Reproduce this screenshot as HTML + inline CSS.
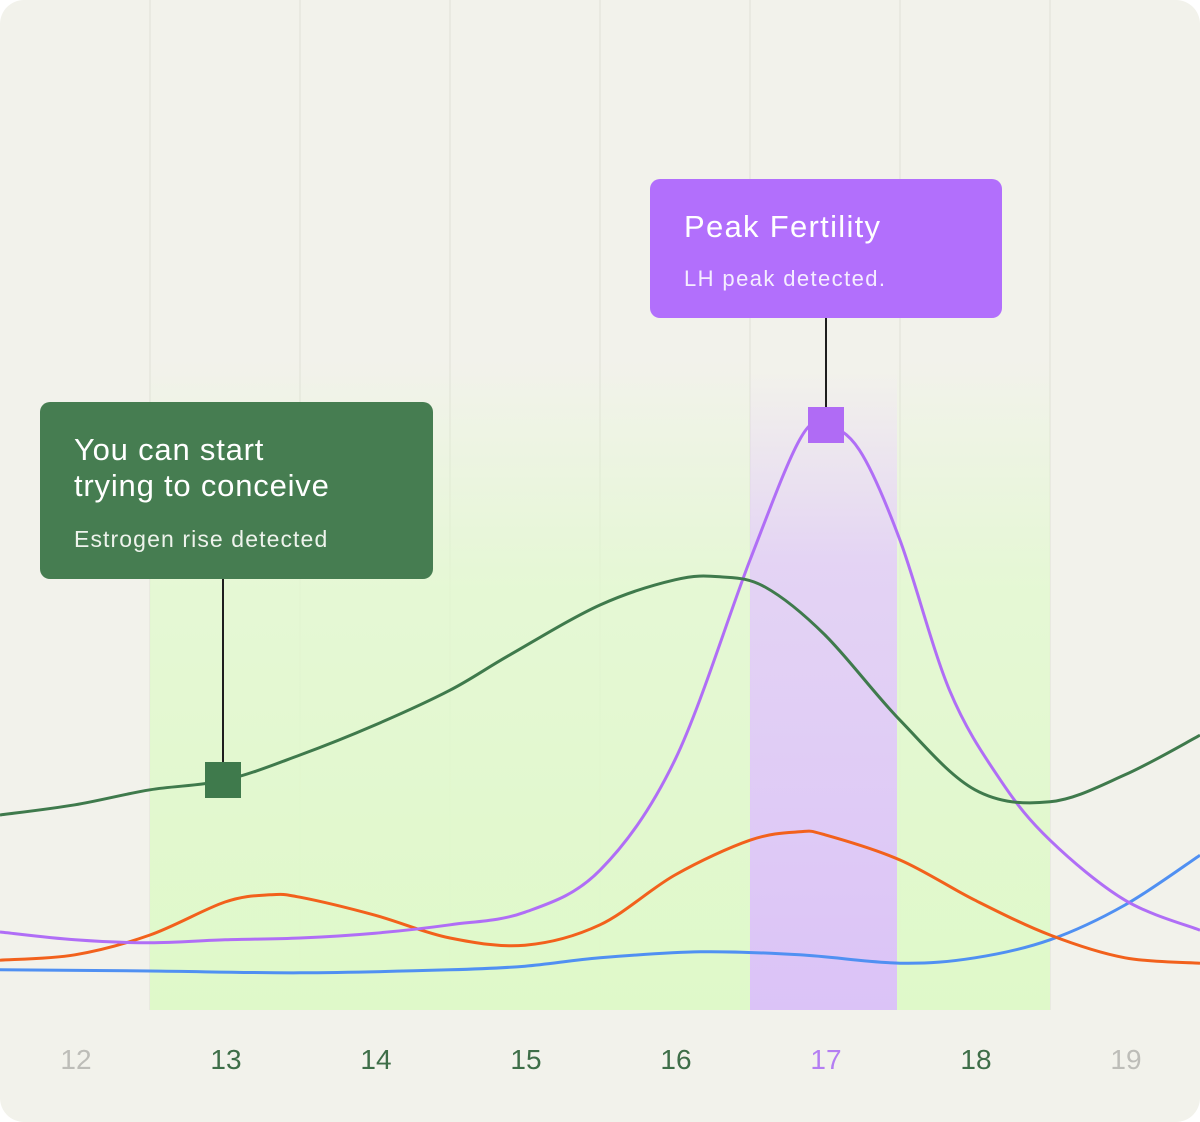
<!DOCTYPE html>
<html><head><meta charset="utf-8"><style>
html,body{margin:0;padding:0;background:#fff;}
body{width:1200px;height:1122px;overflow:hidden;font-family:"Liberation Sans",sans-serif;}
#card{position:absolute;left:0;top:0;width:1200px;height:1122px;border-radius:24px;background:#f2f2eb;overflow:hidden;}
svg{position:absolute;left:0;top:0;}
</style></head><body>
<div id="card">
<svg id="chart" width="1200" height="1122">
<defs>
<linearGradient id="gGreen" x1="0" y1="0" x2="0" y2="1"><stop offset="0" stop-color="#e2f9cf" stop-opacity="0"/><stop offset="0.35" stop-color="#e2f9cf" stop-opacity="0.8"/><stop offset="1" stop-color="#dff9c9"/></linearGradient>
<linearGradient id="gPurple" x1="0" y1="0" x2="0" y2="1"><stop offset="0" stop-color="#e4d4f4" stop-opacity="0"/><stop offset="0.3" stop-color="#e2d0f5" stop-opacity="0.9"/><stop offset="1" stop-color="#dbc3f7"/></linearGradient>
</defs>
<g id="grid"></g><g id="bands"></g><g id="lines"></g><g id="xaxis"></g>
</svg>
</div>
<script>
const days=[12,13,14,15,16,17,18,19];
const dayColors=["#bdbdb8","#3e6e48","#3e6e48","#3e6e48","#3e6e48","#b47ef2","#3e6e48","#bdbdb8"];
const xs=[11.5,12,12.5,13,13.5,14,14.5,14.9,15.5,16,16.3,16.6,17,17.5,18,18.5,19,19.5];
const estrogen=[32.5,34.2,36.7,38.3,42.5,47.5,53.3,59.2,67.5,71.7,72.2,70.5,62.5,48.3,36.7,34.7,39.2,45.8];
const lhX=[11.5,12,12.5,13,13.5,14,14.5,15,15.5,16,16.5,16.83,17,17.23,17.5,17.83,18.17,18.5,19,19.5];
const lh=[13,11.7,11.2,11.7,12,12.8,14.2,16.3,23.3,41.7,75,95,97.5,93.3,78.3,53.3,38.3,28.3,18.3,13.3];
const progX=[11.5,12,12.5,13,13.3,13.5,14,14.5,15,15.5,16,16.5,16.83,17,17.5,18,18.5,19,19.5];
const prog=[8.3,9.2,12.5,18,19.2,18.8,15.8,12,10.8,14.2,22.5,28.3,29.7,29.2,25,18.3,12.5,8.7,7.8];
const fshX=[11.5,12.5,13.5,14.5,15,15.5,16.17,16.83,17.5,18,18.5,19,19.5];
const fsh=[6.7,6.5,6.2,6.7,7.3,8.7,9.7,9.2,7.8,8.7,11.7,17.5,25.8];
const highlightStart=12.5, highlightEnd=18.5, peakStart=16.5, peakEnd=17.48;
const X=d=>(d-12)*150+75;
const Y=v=>1010-v*6;
const NS="http://www.w3.org/2000/svg";
function mk(tag,attrs,parent){const e=document.createElementNS(NS,tag);for(const k in attrs)e.setAttribute(k,attrs[k]);parent.appendChild(e);return e;}
const grid=document.getElementById('grid');
for(let i=1;i<8;i++){
 const l=mk('line',{x1:i*150,x2:i*150,y1:0,y2:1010,stroke:'#e6e6de','stroke-width':1.5},grid);
 
 
}
const bands=document.getElementById('bands');
const gb=mk('rect',{x:X(highlightStart),y:360,width:X(peakStart)-X(highlightStart),height:650,fill:'url(#gGreen)'},bands);


const gb2=mk('rect',{x:X(peakEnd),y:360,width:X(highlightEnd)-X(peakEnd),height:650,fill:'url(#gGreen)'},bands);


const pb=mk('rect',{x:X(peakStart),y:370,width:X(peakEnd)-X(peakStart),height:640,fill:'url(#gPurple)'},bands);


function path(xv,yv){
 const p=xv.map((x,i)=>[X(x),Y(yv[i])]);
 let d=`M${p[0][0]},${p[0][1]}`;
 for(let i=0;i<p.length-1;i++){
  const p0=p[i-1]||p[i],p1=p[i],p2=p[i+1],p3=p[i+2]||p2;
  const c1=[p1[0]+(p2[0]-p0[0])/6,p1[1]+(p2[1]-p0[1])/6];
  const c2=[p2[0]-(p3[0]-p1[0])/6,p2[1]-(p3[1]-p1[1])/6];
  d+=` C${c1[0]},${c1[1]} ${c2[0]},${c2[1]} ${p2[0]},${p2[1]}`;
 }
 return d;
}
const lines=document.getElementById('lines');
const s1=mk('path',{d:path(fshX,fsh),fill:'none',stroke:'#5090f2','stroke-width':3},lines);


const s2=mk('path',{d:path(progX,prog),fill:'none',stroke:'#f2611c','stroke-width':3},lines);


const s3=mk('path',{d:path(lhX,lh),fill:'none',stroke:'#b06ef6','stroke-width':3},lines);


const s4=mk('path',{d:path(xs,estrogen),fill:'none',stroke:'#3f7a4c','stroke-width':3},lines);


const xa=document.getElementById('xaxis');
days.forEach((d,i)=>{
 const t=mk('text',{x:X(d)+1,y:1069,'text-anchor':'middle','font-size':28,fill:dayColors[i],'font-family':'Liberation Sans, sans-serif'},xa);
 t.textContent=d;
 
 
});
</script>
<svg width="1200" height="1122" style="pointer-events:none">
<line x1="223" y1="579" x2="223" y2="780" stroke="#1e1e1e" stroke-width="2"/>
<rect x="205" y="762" width="36" height="36" fill="#3f7a4c"/>
<rect x="40" y="402" width="393" height="177" rx="10" fill="#467d51"/>
<text x="74" y="460" font-size="31" letter-spacing="0.8" fill="#fff" font-family="Liberation Sans, sans-serif">You can start</text>
<text x="74" y="496" font-size="31" letter-spacing="0.8" fill="#fff" font-family="Liberation Sans, sans-serif">trying to conceive</text>
<text x="74" y="547" font-size="23" letter-spacing="1.1" fill="#eef3ec" font-family="Liberation Sans, sans-serif">Estrogen rise detected</text>
<line x1="826" y1="318" x2="826" y2="420" stroke="#1e1e1e" stroke-width="2"/>
<rect x="808" y="407" width="36" height="36" fill="#b06bf5"/>
<rect x="650" y="179" width="352" height="139" rx="10" fill="#b26ffc"/>
<text x="684" y="237" font-size="31" letter-spacing="1.3" fill="#fff" font-family="Liberation Sans, sans-serif">Peak Fertility</text>
<text x="684" y="286" font-size="22" letter-spacing="1.4" fill="#f5edff" font-family="Liberation Sans, sans-serif">LH peak detected.</text>
</svg>
</body></html>
